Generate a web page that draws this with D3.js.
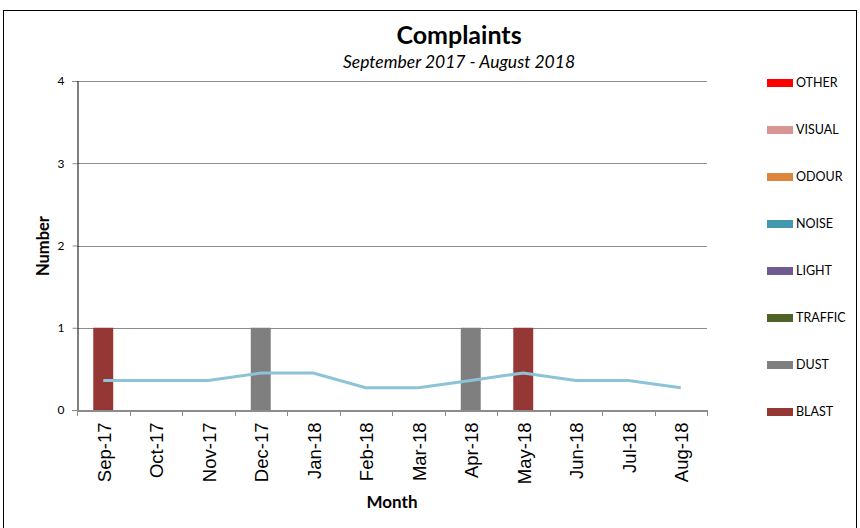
<!DOCTYPE html>
<html><head><meta charset="utf-8">
<script src="https://cdn.jsdelivr.net/npm/d3@7"></script>
<style>body{margin:0;background:#fff}svg{display:block}</style>
</head><body>
<svg id="c" width="860" height="528"></svg>
<script>
const months = ["Sep-17","Oct-17","Nov-17","Dec-17","Jan-18","Feb-18","Mar-18","Apr-18","May-18","Jun-18","Jul-18","Aug-18"];
const seriesNames = ["BLAST","DUST","TRAFFIC","LIGHT","NOISE","ODOUR","VISUAL","OTHER"];
const seriesColors = ["#953735","#7f7f7f","#4f6228","#705b91","#4298af","#dd843d","#d99594","#ff0000"];
const BLAST   = [1,0,0,0,0,0,0,0,1,0,0,0];
const DUST    = [0,0,0,1,0,0,0,1,0,0,0,0];
const TRAFFIC = [0,0,0,0,0,0,0,0,0,0,0,0];
const LIGHT   = [0,0,0,0,0,0,0,0,0,0,0,0];
const NOISE   = [0,0,0,0,0,0,0,0,0,0,0,0];
const ODOUR   = [0,0,0,0,0,0,0,0,0,0,0,0];
const VISUAL  = [0,0,0,0,0,0,0,0,0,0,0,0];
const OTHER   = [0,0,0,0,0,0,0,0,0,0,0,0];
const average = [0.36,0.36,0.36,0.45,0.45,0.27,0.27,0.36,0.45,0.36,0.36,0.27];
const yTicks = [0,1,2,3,4];

const seriesValues = [BLAST,DUST,TRAFFIC,LIGHT,NOISE,ODOUR,VISUAL,OTHER];
const table = months.map((m,i)=>{const o={month:m}; seriesNames.forEach((s,j)=>o[s]=seriesValues[j][i]); return o;});

const svg = d3.select("#c");
const L=77, R=707, T=81, B=410;
const x = d3.scaleBand().domain(months).range([L,R]).paddingInner(0.62).paddingOuter(0.31);
const xb = d3.scaleBand().domain(months).range([L,R]);
const y = d3.scaleLinear().domain([0,4]).range([B,T]);

// frame
svg.append("rect").attr("x",3.5).attr("y",10.5).attr("width",853).attr("height",530)
  .attr("fill","none").attr("stroke","#000").attr("stroke-width",1);

// gridlines
svg.append("g").selectAll("line").data(yTicks.filter(d=>d>0)).join("line")
  .attr("x1",L).attr("x2",R).attr("y1",d=>Math.round(y(d))+0.5).attr("y2",d=>Math.round(y(d))+0.5)
  .attr("stroke","#8c8c8c").attr("stroke-width",1);

// stacked bars
const stack = d3.stack().keys(seriesNames)(table);
svg.append("g").selectAll("g").data(stack).join("g")
  .attr("fill",(d,i)=>seriesColors[i])
  .selectAll("rect").data(d=>d.filter(p=>p[1]-p[0]>0)).join("rect")
  .attr("x",d=>x(d.data.month)).attr("width",x.bandwidth())
  .attr("y",d=>y(d[1])).attr("height",d=>y(d[0])-y(d[1]));

// line
const line = d3.line().x((d,i)=>xb(months[i])+xb.bandwidth()/2).y(d=>y(d));
svg.append("path").datum(average).attr("d",line).attr("fill","none")
  .attr("stroke","#8cc3d7").attr("stroke-width",3);

// y axis
const yAxis = d3.axisLeft(y).tickValues(yTicks).tickSize(5).tickFormat(d3.format("d"));
const gy = svg.append("g").attr("transform",`translate(${L+0.5},0)`).call(yAxis);
gy.select(".domain").attr("stroke","#000");
gy.selectAll(".tick line").attr("stroke","#8c8c8c");
gy.selectAll("text").attr("font-family","Lato, sans-serif").attr("font-size",12).attr("fill","#000").attr("x",-13);

// x axis
const xAxis = d3.axisBottom(xb).tickSize(0).tickSizeOuter(0);
const gx = svg.append("g").attr("transform",`translate(0,${B+0.5})`).call(xAxis);
gx.select(".domain").attr("stroke","#8c8c8c").attr("stroke-width",2);
gx.selectAll(".tick text").attr("font-family","Liberation Sans, Arial, sans-serif").attr("font-size",18.5).attr("fill","#000")
  .attr("transform","rotate(-90)").attr("text-anchor","end").attr("x",-12).attr("y",1).attr("dy","0.35em");
// boundary tick marks
svg.append("g").selectAll("line").data(months.concat(["end"])).join("line")
  .attr("x1",(d,i)=>Math.round(L+i*xb.step())+0.5).attr("x2",(d,i)=>Math.round(L+i*xb.step())+0.5)
  .attr("y1",B).attr("y2",B+6).attr("stroke","#8c8c8c");

// titles
svg.append("text").attr("x",459).attr("y",44).attr("text-anchor","middle")
  .attr("font-family","Lato, sans-serif").attr("font-weight","bold").attr("font-size",25).text("Complaints");
svg.append("text").attr("x",459).attr("y",68).attr("text-anchor","middle")
  .attr("font-family","Lato, sans-serif").attr("font-style","italic").attr("font-size",17.5).text("September 2017 - August 2018");
svg.append("text").attr("transform","translate(49,246) rotate(-90)").attr("text-anchor","middle")
  .attr("font-family","Lato, sans-serif").attr("font-weight","bold").attr("font-size",16.5).text("Number");
svg.append("text").attr("x",392).attr("y",508).attr("text-anchor","middle")
  .attr("font-family","Lato, sans-serif").attr("font-weight","bold").attr("font-size",17).text("Month");

// legend
const legendOrder = ["OTHER","VISUAL","ODOUR","NOISE","LIGHT","TRAFFIC","DUST","BLAST"];
const lg = svg.append("g").selectAll("g").data(legendOrder).join("g")
  .attr("transform",(d,i)=>`translate(767,${83+i*47})`);
lg.append("rect").attr("x",0).attr("y",-4).attr("width",26).attr("height",8)
  .attr("fill",d=>seriesColors[seriesNames.indexOf(d)]);
lg.append("text").attr("x",29).attr("y",0).attr("dy","0.35em")
  .attr("font-family","Lato, sans-serif").attr("font-size",12.5).text(d=>d);
</script>
</body></html>
